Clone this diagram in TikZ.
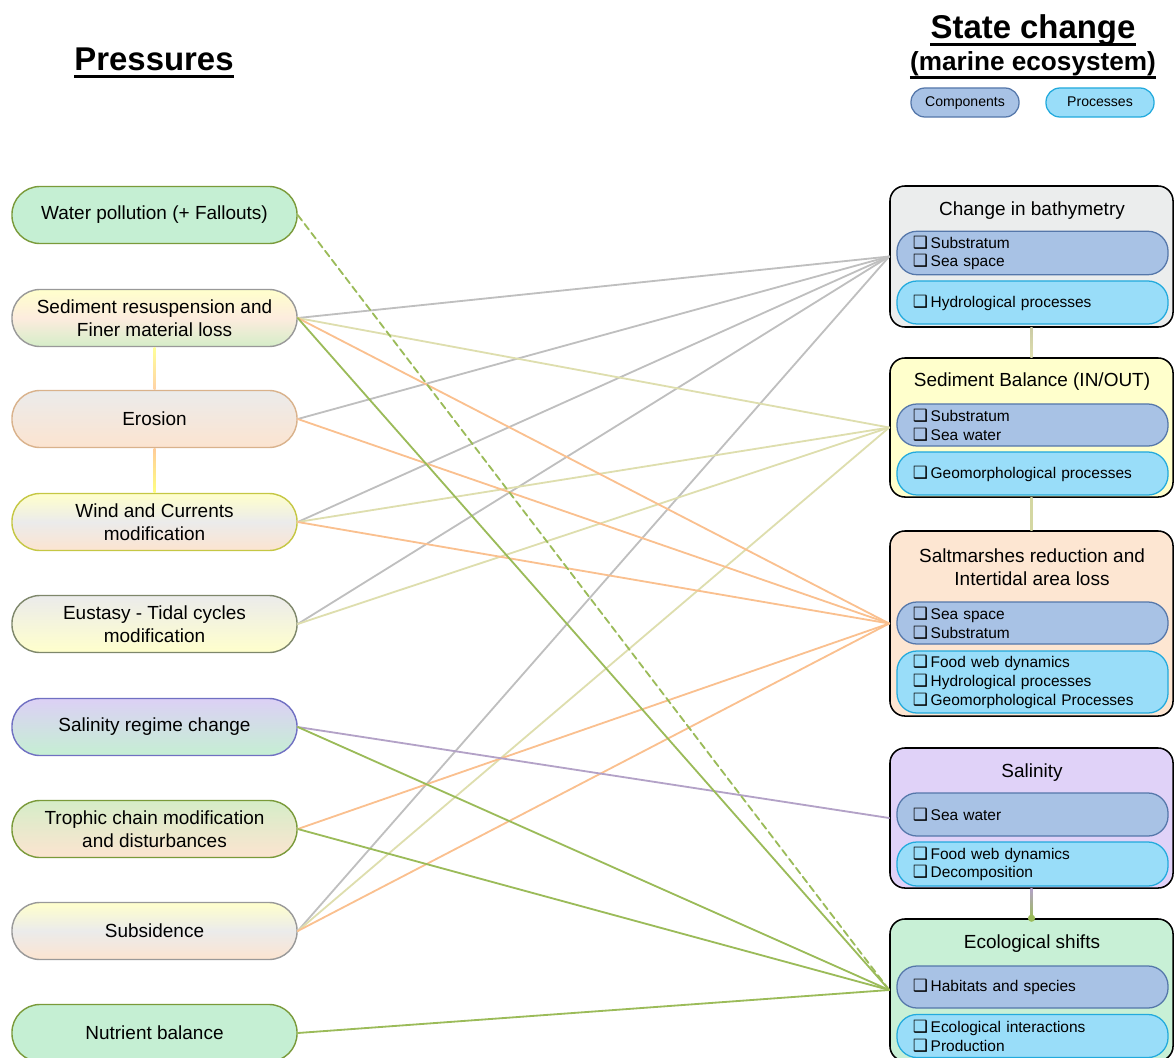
\documentclass[tikz,border=0pt]{standalone}
\usepackage{fontspec}
\setmainfont{Liberation Sans}
\newfontfamily\symfont{DejaVu Sans}
\usetikzlibrary{calc}

\definecolor{mint}{HTML}{C5EFD3}
\definecolor{olive}{HTML}{7A9A3A}
\definecolor{lyellow}{HTML}{FFFFCC}
\definecolor{lpeach}{HTML}{FCE4D0}
\definecolor{lgray}{HTML}{EBEBEB}
\definecolor{lgreen}{HTML}{D5EDC8}
\definecolor{lavender}{HTML}{DCD0F5}
\definecolor{bathyfill}{HTML}{EBEDED}
\definecolor{saltfill}{HTML}{FDE6D2}
\definecolor{salinfill}{HTML}{E0D2F8}
\definecolor{ecolfill}{HTML}{C8F0D6}
\definecolor{compfill}{HTML}{A8C2E5}
\definecolor{compline}{HTML}{5577AA}
\definecolor{procfill}{HTML}{99DDF9}
\definecolor{procline}{HTML}{22AADD}
\definecolor{grayline}{HTML}{BFBFBF}
\definecolor{khaki}{HTML}{DEDEAE}
\definecolor{orangeline}{HTML}{FAC08F}
\definecolor{lilac}{HTML}{B3A2C7}
\definecolor{greenline}{HTML}{9BBB59}

\newcommand{\cb}{{\symfont\fontsize{12}{12}\selectfont\char"2751}\,}

\tikzset{
  pressure/.style={draw, line width=1pt, rounded corners=0.7cm,
    minimum width=7.125cm, minimum height=1.425cm, align=center,
    font=\fontsize{13.5}{16.3}\selectfont},
  state/.style={draw=black, line width=1.1pt, rounded corners=0.375cm,
    minimum width=7.075cm},
  statetitle/.style={align=center, font=\fontsize{13.5}{16.3}\selectfont},
  comp/.style={draw=compline, fill=compfill, line width=0.9pt,
    rounded corners=0.5cm, minimum width=6.775cm, text width=5.975cm,
    inner xsep=0.4cm, align=left, font=\fontsize{11}{13.2}\selectfont},
  proc/.style={comp, draw=procline, fill=procfill},
  legend/.style={line width=0.9pt, rounded corners=0.35cm,
    minimum width=2.7cm, minimum height=0.725cm, text height=7.5pt,
    text depth=2pt, font=\fontsize{10}{12}\selectfont},
  heading/.style={inner sep=0pt, anchor=base, font=\bfseries},
  link/.style={line width=1.3pt, line cap=round}
}

\begin{document}
\begin{tikzpicture}[x=0.025cm, y=-0.025cm]
  \useasboundingbox (0,0) rectangle (1174,1057);
  \clip (0,0) rectangle (1174,1057);

  % titles
  \node[heading, font=\bfseries\fontsize{23.4}{28}\selectfont] (pres) at (154,71) {Pressures};
  \draw[line width=2pt] ([yshift=-0.13cm]pres.base west) -- ([yshift=-0.13cm]pres.base east);
  \node[heading, font=\bfseries\fontsize{23.4}{28}\selectfont] (stch) at (1033,39) {State change};
  \draw[line width=2pt] ([yshift=-0.13cm]stch.base west) -- ([yshift=-0.13cm]stch.base east);
  \node[heading, font=\bfseries\fontsize{18.6}{22}\selectfont] (marine) at (1033,71) {(marine ecosystem)};
  \draw[line width=1.6pt] ([yshift=-0.16cm]marine.base west) -- ([yshift=-0.16cm]marine.base east);

  \node[legend, draw=compline, fill=compfill] (lcomp) at (965,102.5) {Components};
  \node[legend, draw=procline, fill=procfill] (lproc) at (1100,102.5) {Processes};

  % pressures
  \node[pressure, draw=olive, fill=mint] (wpol) at (154.5,215) {Water pollution (+ Fallouts)};
  \node[pressure, draw=gray!80, top color=lyellow, bottom color=lgreen, middle color=lpeach!70] (sedres) at (154.5,318) {Sediment resuspension and\\Finer material loss};
  \node[pressure, draw=brown!60, top color=lgray, bottom color=lpeach] (eros) at (154.5,419) {Erosion};
  \node[pressure, draw=yellow!50!olive, top color=lyellow, bottom color=lpeach, middle color=lgray] (wind) at (154.5,522) {Wind and Currents\\modification};
  \node[pressure, draw=gray!70!olive, top color=lgray, bottom color=lyellow] (eust) at (154.5,624) {Eustasy - Tidal cycles\\modification};
  \node[pressure, draw=gray!60!blue!80, top color=lavender, bottom color=mint, middle color=lavender!50!mint] (salreg) at (154.5,727) {Salinity regime change};
  \node[pressure, draw=olive, top color=lgreen, bottom color=lpeach] (troph) at (154.5,829) {Trophic chain modification\\and disturbances};
  \node[pressure, draw=gray!80, top color=lyellow, bottom color=lpeach, middle color=lgray] (subs) at (154.5,931) {Subsidence};
  \node[pressure, draw=olive, fill=mint] (nutr) at (154.5,1033) {Nutrient balance};

  % state changes
  \node[state, fill=bathyfill, minimum height=3.525cm] (bathy) at (1031.5,256.5) {};
  \node[statetitle] (bathyt) at (1032,211) {Change in bathymetry};
  \node[comp, minimum height=1.05cm] (bathyc) at (1032.5,253) {\cb Substratum\\\cb Sea space};
  \node[proc, minimum height=1.075cm] (bathyp) at (1032.5,302.5) {\cb Hydrological processes};

  \node[state, fill=lyellow, minimum height=3.475cm] (sedbal) at (1031.5,427.5) {};
  \node[statetitle] (sedbalt) at (1032,382) {Sediment Balance (IN/OUT)};
  \node[comp, minimum height=1.05cm] (sedbalc) at (1032.5,425) {\cb Substratum\\\cb Sea water};
  \node[proc, minimum height=1.075cm] (sedbalp) at (1032.5,473.5) {\cb Geomorphological processes};

  \node[state, fill=saltfill, minimum height=4.625cm] (saltm) at (1031.5,623.5) {};
  \node[statetitle] (saltmt) at (1032,567.5) {Saltmarshes reduction and\\Intertidal area loss};
  \node[comp, minimum height=1.05cm] (saltmc) at (1032.5,623) {\cb Sea space\\\cb Substratum};
  \node[proc, minimum height=1.55cm] (saltmp) at (1032.5,682) {\cb Food web dynamics\\\cb Hydrological processes\\\cb Geomorphological Processes};

  \node[state, fill=salinfill, minimum height=3.5cm] (salin) at (1031.5,818) {};
  \node[statetitle] (salint) at (1032,773) {Salinity};
  \node[comp, minimum height=1.075cm] (salinc) at (1032.5,814.5) {\cb Sea water};
  \node[proc, minimum height=1.1cm] (salinp) at (1032.5,864) {\cb Food web dynamics\\\cb Decomposition};

  \node[state, fill=ecolfill, minimum height=3.55cm] (ecol) at (1031.5,990) {};
  \node[statetitle] (ecolt) at (1032,944) {Ecological shifts};
  \node[comp, minimum height=1.05cm] (ecolc) at (1032.5,987) {\cb Habitats and species};
  \node[proc, minimum height=1.075cm] (ecolp) at (1032.5,1036) {\cb Ecological interactions\\\cb Production};

  % vertical links
  \shade[top color=yellow!40, bottom color=orange!35] ([xshift=-0.025cm]sedres.south) rectangle ([xshift=0.025cm]eros.north);
  \shade[top color=orange!40, bottom color=yellow!50] ([xshift=-0.025cm]eros.south) rectangle ([xshift=0.025cm]wind.north);
  \shade[top color=khaki!80!gray, bottom color=khaki] ([xshift=-0.03cm]bathy.south) rectangle ([xshift=0.03cm]sedbal.north);
  \shade[top color=khaki!90!olive, bottom color=khaki!90!olive] ([xshift=-0.03cm]sedbal.south) rectangle ([xshift=0.03cm]saltm.north);
  \shade[top color=lilac, bottom color=greenline] ([xshift=-0.03cm]salin.south) rectangle ([xshift=0.03cm]ecol.north);
  \fill[greenline] (ecol.north) circle (0.09cm);

  % links to bathymetry
  \draw[link, grayline] (sedres.east) -- (bathy.west);
  \draw[link, grayline] (eros.east) -- (bathy.west);
  \draw[link, grayline] (wind.east) -- (bathy.west);
  \draw[link, grayline] (eust.east) -- (bathy.west);
  \draw[link, grayline] (subs.east) -- (bathy.west);

  % links to sediment balance
  \draw[link, khaki] (sedres.east) -- (sedbal.west);
  \draw[link, khaki] (wind.east) -- (sedbal.west);
  \draw[link, khaki] (eust.east) -- (sedbal.west);
  \draw[link, khaki] (subs.east) -- (sedbal.west);

  % links to saltmarshes
  \draw[link, orangeline] (sedres.east) -- (saltm.west);
  \draw[link, orangeline] (eros.east) -- (saltm.west);
  \draw[link, orangeline] (wind.east) -- (saltm.west);
  \draw[link, orangeline] (troph.east) -- (saltm.west);
  \draw[link, orangeline] (subs.east) -- (saltm.west);

  % links to salinity and ecological shifts
  \draw[link, lilac] (salreg.east) -- (salin.west);
  \draw[link, greenline, dash pattern=on 5pt off 3pt] (wpol.east) -- (ecol.west);
  \draw[link, greenline] (sedres.east) -- (ecol.west);
  \draw[link, greenline] (salreg.east) -- (ecol.west);
  \draw[link, greenline] (troph.east) -- (ecol.west);
  \draw[link, greenline] (nutr.east) -- (ecol.west);
\end{tikzpicture}
\end{document}
